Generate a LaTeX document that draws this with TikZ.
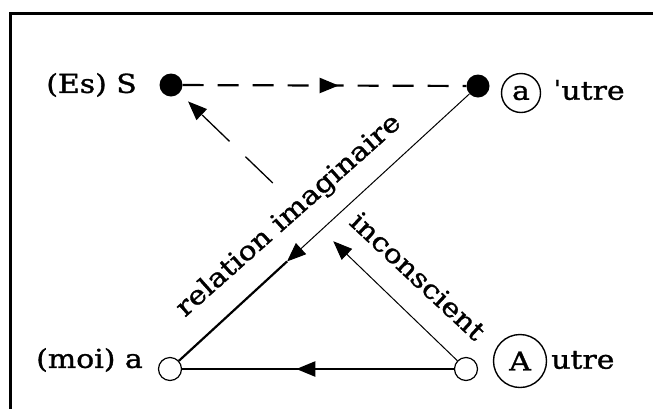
\documentclass[tikz,border=0pt]{standalone}
\usepackage{fontspec}
\setmainfont[FakeStretch=1.15,FakeBold=1.2]{DejaVu Serif}
\usetikzlibrary{arrows.meta,decorations.markings,calc}
\begin{document}
\begin{tikzpicture}[x=1pt,y=-1pt,
  dot/.style={circle,fill=black,minimum size=23pt,inner sep=0pt},
  hole/.style={circle,draw=black,line width=1.2pt,fill=white,minimum size=23pt,inner sep=0pt},
  lbl/.style={font=\fontsize{26}{30}\selectfont,inner sep=0pt},
  ring/.style={circle,draw=black,line width=1.4pt,inner sep=0pt},
  tip/.style={-{Triangle[length=19pt,width=15pt]}},
  midarrow/.style={postaction={decorate},decoration={markings,mark=at position #1 with {\arrow{Triangle[length=19pt,width=15pt]}}}},
]
\useasboundingbox (0,0) rectangle (653,408);
\fill[white] (0,0) rectangle (653,408);
\draw[line width=3pt,line join=miter] (10,410) -- (10,13) -- (656,13);

\node[dot] (S) at (171,85) {};
\node[dot] (ap) at (478,86) {};
\node[hole] (m) at (170,369) {};
\node[hole] (A) at (466,369) {};

% S -> a'
\draw[line width=2.2pt, dash pattern=on 21pt off 14pt, midarrow=0.55] (S) -- (ap);
% a' -> moi
\coordinate (k1) at ($(ap)!0.62!(m)$);
\draw[line width=1pt, tip] (ap) -- (k1);
\draw[line width=2.2pt] (k1) -- (m);
% A -> moi
\draw[line width=2.2pt, midarrow=0.58] (A) -- (m);
% A -> S
\coordinate (k2) at ($(A)!0.45!(S)$);
\coordinate (k3) at ($(A)!0.655!(S)$);
\draw[line width=1pt, tip] (A) -- (k2);
\draw[line width=1.3pt, dash pattern=on 38pt off 22pt, tip, shorten >=12pt] (k3) -- (S);

% labels
\node[lbl, anchor=east] (tS) at (137,85) {(Es) S};
\node[lbl, anchor=east] (tm) at (143,360) {(moi) a};
\node[lbl, ring, minimum size=39pt] (ca) at (521,93) {a};
\node[lbl, anchor=west] (tu1) at (553,90) {ˈutre};
\node[lbl, ring, minimum size=53pt] (cA) at (520,361) {A};
\node[lbl, anchor=west] (tu2) at (551,360) {utre};
\node[lbl, rotate=41.6] (ri) at (289,216) {relation imaginaire};
\node[lbl, rotate=-43] (ic) at (418,276) {inconscient};
\end{tikzpicture}
\end{document}
